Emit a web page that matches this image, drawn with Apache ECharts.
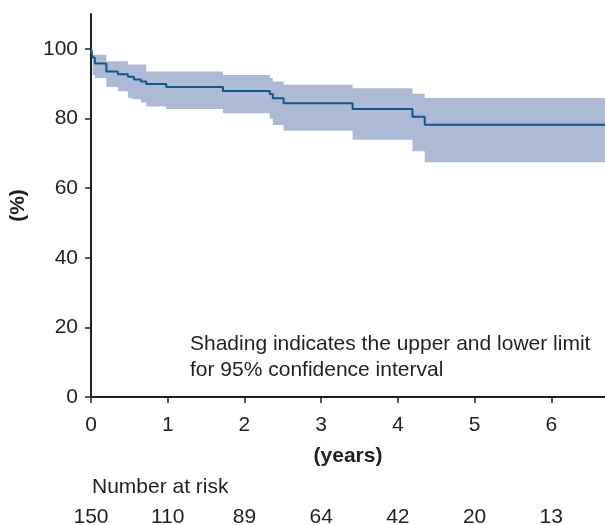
<!DOCTYPE html>
<html>
<head>
<meta charset="utf-8">
<style>
  html, body { margin: 0; padding: 0; background: #fff; }
  #chart { width: 605px; height: 525px; }
</style>
<script src="https://cdn.jsdelivr.net/npm/echarts@6/dist/echarts.min.js"></script>
</head>
<body>
<div id="chart"></div>
<script>
// survival curve with 95% CI band
var times    = [0, 0.02, 0.05, 0.2, 0.35, 0.48, 0.56, 0.65, 0.72, 0.98, 1.72, 2.33, 2.37, 2.51, 3.41, 4.19, 4.35, 6.7];
var survival = [100, 97.5, 95.8, 93.5, 92.7, 92.0, 91.2, 90.6, 89.9, 89.0, 87.9, 87.0, 85.8, 84.4, 82.7, 80.5, 78.2, 78.2];
var upper    = [100, 98.3, 98.3, 96.4, 96.4, 95.5, 95.5, 95.5, 93.5, 93.5, 92.5, 91.6, 90.6, 89.7, 88.7, 87.1, 85.9, 85.9];
var lower    = [100, 92.5, 91.6, 89.0, 87.8, 86.0, 85.5, 84.6, 83.4, 82.7, 81.5, 79.9, 78.1, 76.5, 73.9, 70.6, 67.4, 67.4];

var yearTicks = [0, 1, 2, 3, 4, 5, 6];
var atRisk = [150, 110, 89, 64, 42, 20, 13];
var pctTicks = [0, 20, 40, 60, 80, 100];

var ink = '#231f20';
var font = '"Liberation Sans", Arial, sans-serif';
var fs = 21;

// band rows are [value, time] so the stack runs on the y value
var lowerData = times.map(function (t, i) { return [lower[i], t]; });
var bandData = times.map(function (t, i) { return [+(upper[i] - lower[i]).toFixed(2), t]; });
var lineData = times.map(function (t, i) { return [t, survival[i]]; });

var chart = echarts.init(document.getElementById('chart'), null, { renderer: 'canvas' });

var option = {
  animation: false,
  backgroundColor: '#fff',
  textStyle: { fontFamily: font },
  grid: { left: 91, right: 0, top: 14, bottom: 128, containLabel: false, outerBoundsMode: 'none' },
  xAxis: [{
    type: 'value',
    min: 0, max: 6.7, interval: 1,
    name: '(years)',
    nameLocation: 'middle',
    nameGap: 49,
    nameTextStyle: { fontSize: fs, fontWeight: 'bold', color: ink, fontFamily: font },
    axisLine: { show: true, onZero: false, lineStyle: { color: ink, width: 2 } },
    axisTick: { show: true, length: 6, customValues: yearTicks, lineStyle: { color: ink, width: 1.5 } },
    axisLabel: { customValues: yearTicks, fontSize: fs, color: ink, margin: 18, fontFamily: font },
    splitLine: { show: false }
  }, {
    type: 'value',
    position: 'bottom',
    offset: 92,
    min: 0, max: 6.7, interval: 1,
    axisLine: { show: false },
    axisTick: { show: false },
    axisLabel: {
      customValues: yearTicks, fontSize: fs, color: ink, margin: 18, fontFamily: font,
      formatter: function (v) { return atRisk[yearTicks.indexOf(Math.round(v))]; }
    },
    splitLine: { show: false }
  }],
  yAxis: {
    type: 'value',
    min: 0, max: 110, interval: 20,
    name: '(%)',
    nameLocation: 'middle',
    nameGap: 62,
    nameRotate: 90,
    nameTextStyle: { fontSize: fs, fontWeight: 'bold', color: ink, fontFamily: font },
    axisLine: { show: true, lineStyle: { color: ink, width: 2 } },
    axisTick: { show: true, length: 6, customValues: pctTicks, lineStyle: { color: ink, width: 1.5 } },
    axisLabel: { customValues: pctTicks, fontSize: fs, color: ink, margin: 13, fontFamily: font },
    splitLine: { show: false }
  },
  series: [{
    name: 'lower',
    type: 'line',
    step: 'end',
    stack: 'ci',
    data: lowerData,
    encode: { x: 1, y: 0 },
    symbol: 'none',
    lineStyle: { opacity: 0 },
    silent: true,
    z: 1
  }, {
    name: 'band',
    type: 'line',
    step: 'end',
    stack: 'ci',
    data: bandData,
    encode: { x: 1, y: 0 },
    symbol: 'none',
    lineStyle: { opacity: 0 },
    areaStyle: { color: '#adbad6', opacity: 1 },
    silent: true,
    z: 1
  }, {
    name: 'survival',
    type: 'line',
    step: 'end',
    data: lineData,
    symbol: 'none',
    lineStyle: { color: '#14568a', width: 2 },
    z: 3
  }],
  graphic: [{
    type: 'text',
    left: 190, top: 331, z: 10,
    style: {
      text: 'Shading indicates the upper and lower limit\nfor 95% confidence interval',
      fill: ink, font: fs + 'px ' + font, lineHeight: 26
    }
  }, {
    type: 'text',
    left: 92, top: 477, z: 10,
    style: { text: 'Number at risk', fill: ink, font: fs + 'px ' + font }
  }]
};

chart.setOption(option);
</script>
</body>
</html>
